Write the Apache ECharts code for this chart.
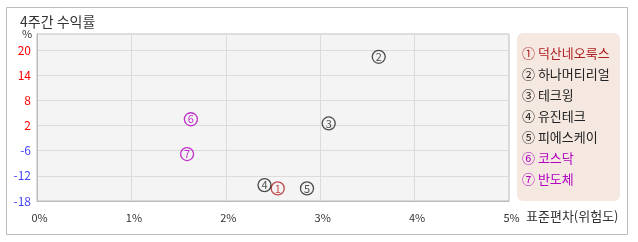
<!DOCTYPE html>
<html><head><meta charset="utf-8">
<script src="https://cdn.jsdelivr.net/npm/echarts@6/dist/echarts.min.js"></script>
<style>html,body{margin:0;padding:0;background:#fff}#c{width:638px;height:242px}</style>
</head><body><div id="c"></div>
<script>
const names = ['덕산네오룩스','하나머티리얼','테크윙','유진테크','피에스케이','코스닥','반도체'];
const marks = ['1','2','3','4','5','6','7'];
const circled = ['①','②','③','④','⑤','⑥','⑦'];
const stdDev = [2.55, 3.62, 3.09, 2.41, 2.86, 1.63, 1.59];     // x, %
const returns4w = [-15.0, 18.4, 2.5, -14.2, -15.0, 3.5, -6.8];  // y, %
const colors = ['#b02020','#222222','#222222','#222222','#222222','#b000c0','#b000c0'];
const yTicks = [-18, -12, -6, 2, 8, 14, 20];
const xTicks = [0, 1, 2, 3, 4, 5];

// y axis ticks are equally spaced but not linear in value: map values to tick index
function yPos(v){
  for (let i = 0; i < yTicks.length - 1; i++){
    if (v <= yTicks[i+1] || i === yTicks.length - 2){
      return i + (v - yTicks[i]) / (yTicks[i+1] - yTicks[i]);
    }
  }
}

const chart = echarts.init(document.getElementById('c'));
const font = '"Noto Sans CJK KR", "Noto Sans", sans-serif';
const series = names.map((n, i) => ({
  type: 'scatter', name: n,
  data: [[stdDev[i], yPos(returns4w[i])]],
  symbol: 'circle', symbolSize: 13,
  itemStyle: {color: 'rgba(0,0,0,0)', borderColor: colors[i], borderWidth: 1.3},
  label: {show: true, position: 'inside', formatter: marks[i], color: colors[i], fontSize: 11, fontFamily: font},
  emphasis: {disabled: true}, z: 5
}));

const legendItems = names.map((n, i) => ({
  type: 'text', left: 522, top: 47 + i * 21,
  style: {text: circled[i] + ' ' + n, fill: colors[i], font: '13px ' + font}
}));

chart.setOption({
  animation: false,
  backgroundColor: '#fff',
  textStyle: {fontFamily: font},
  title: {text: '4주간 수익률', left: 15, top: 10, textStyle: {fontSize: 14, fontWeight: 'normal', color: '#333', fontFamily: font}},
  grid: {left: 37, right: 129, top: 34, bottom: 41, show: true, backgroundColor: '#f4f4f4', borderColor: '#bbb', borderWidth: 1},
  xAxis: {
    type: 'value', min: xTicks[0], max: xTicks[xTicks.length-1], interval: 1,
    axisLine: {show: true, lineStyle: {color: '#bbb'}}, axisTick: {show: false},
    splitLine: {show: true, lineStyle: {color: '#dcdcdc'}},
    axisLabel: {formatter: v => v + '%', color: '#333', fontSize: 11, margin: 11, padding: [0,0,0,5]}
  },
  yAxis: {
    type: 'value', min: 0, max: 6.64, interval: 1,
    axisLine: {show: true, lineStyle: {color: '#bbb'}}, axisTick: {show: false},
    splitLine: {show: true, lineStyle: {color: '#dcdcdc'}},
    axisLabel: {
      showMaxLabel: false, margin: 6, fontSize: 12,
      formatter: v => (Number.isInteger(v) && yTicks[v] !== undefined) ? (yTicks[v] > 0 ? '{p|' + yTicks[v] + '}' : '{n|' + yTicks[v] + '}') : '',
      rich: {p: {color: '#ff0000', fontSize: 12}, n: {color: '#4444ff', fontSize: 12}}
    }
  },
  series: series,
  graphic: [
    {type: 'rect', shape: {x: 6.5, y: 7.5, width: 621, height: 227}, style: {fill: 'none', stroke: '#bbb', lineWidth: 1}, z: -1},
    {type: 'text', left: 22, top: 28, style: {text: '%', fill: '#333', font: '11px ' + font}},
    {type: 'text', left: 526, top: 210, style: {text: '표준편차(위험도)', fill: '#333', font: '13px ' + font}},
    {type: 'rect', shape: {x: 517, y: 33, width: 103, height: 168, r: 6}, style: {fill: '#f5e8e1'}, z: 0},
    ...legendItems
  ]
});
</script></body></html>
